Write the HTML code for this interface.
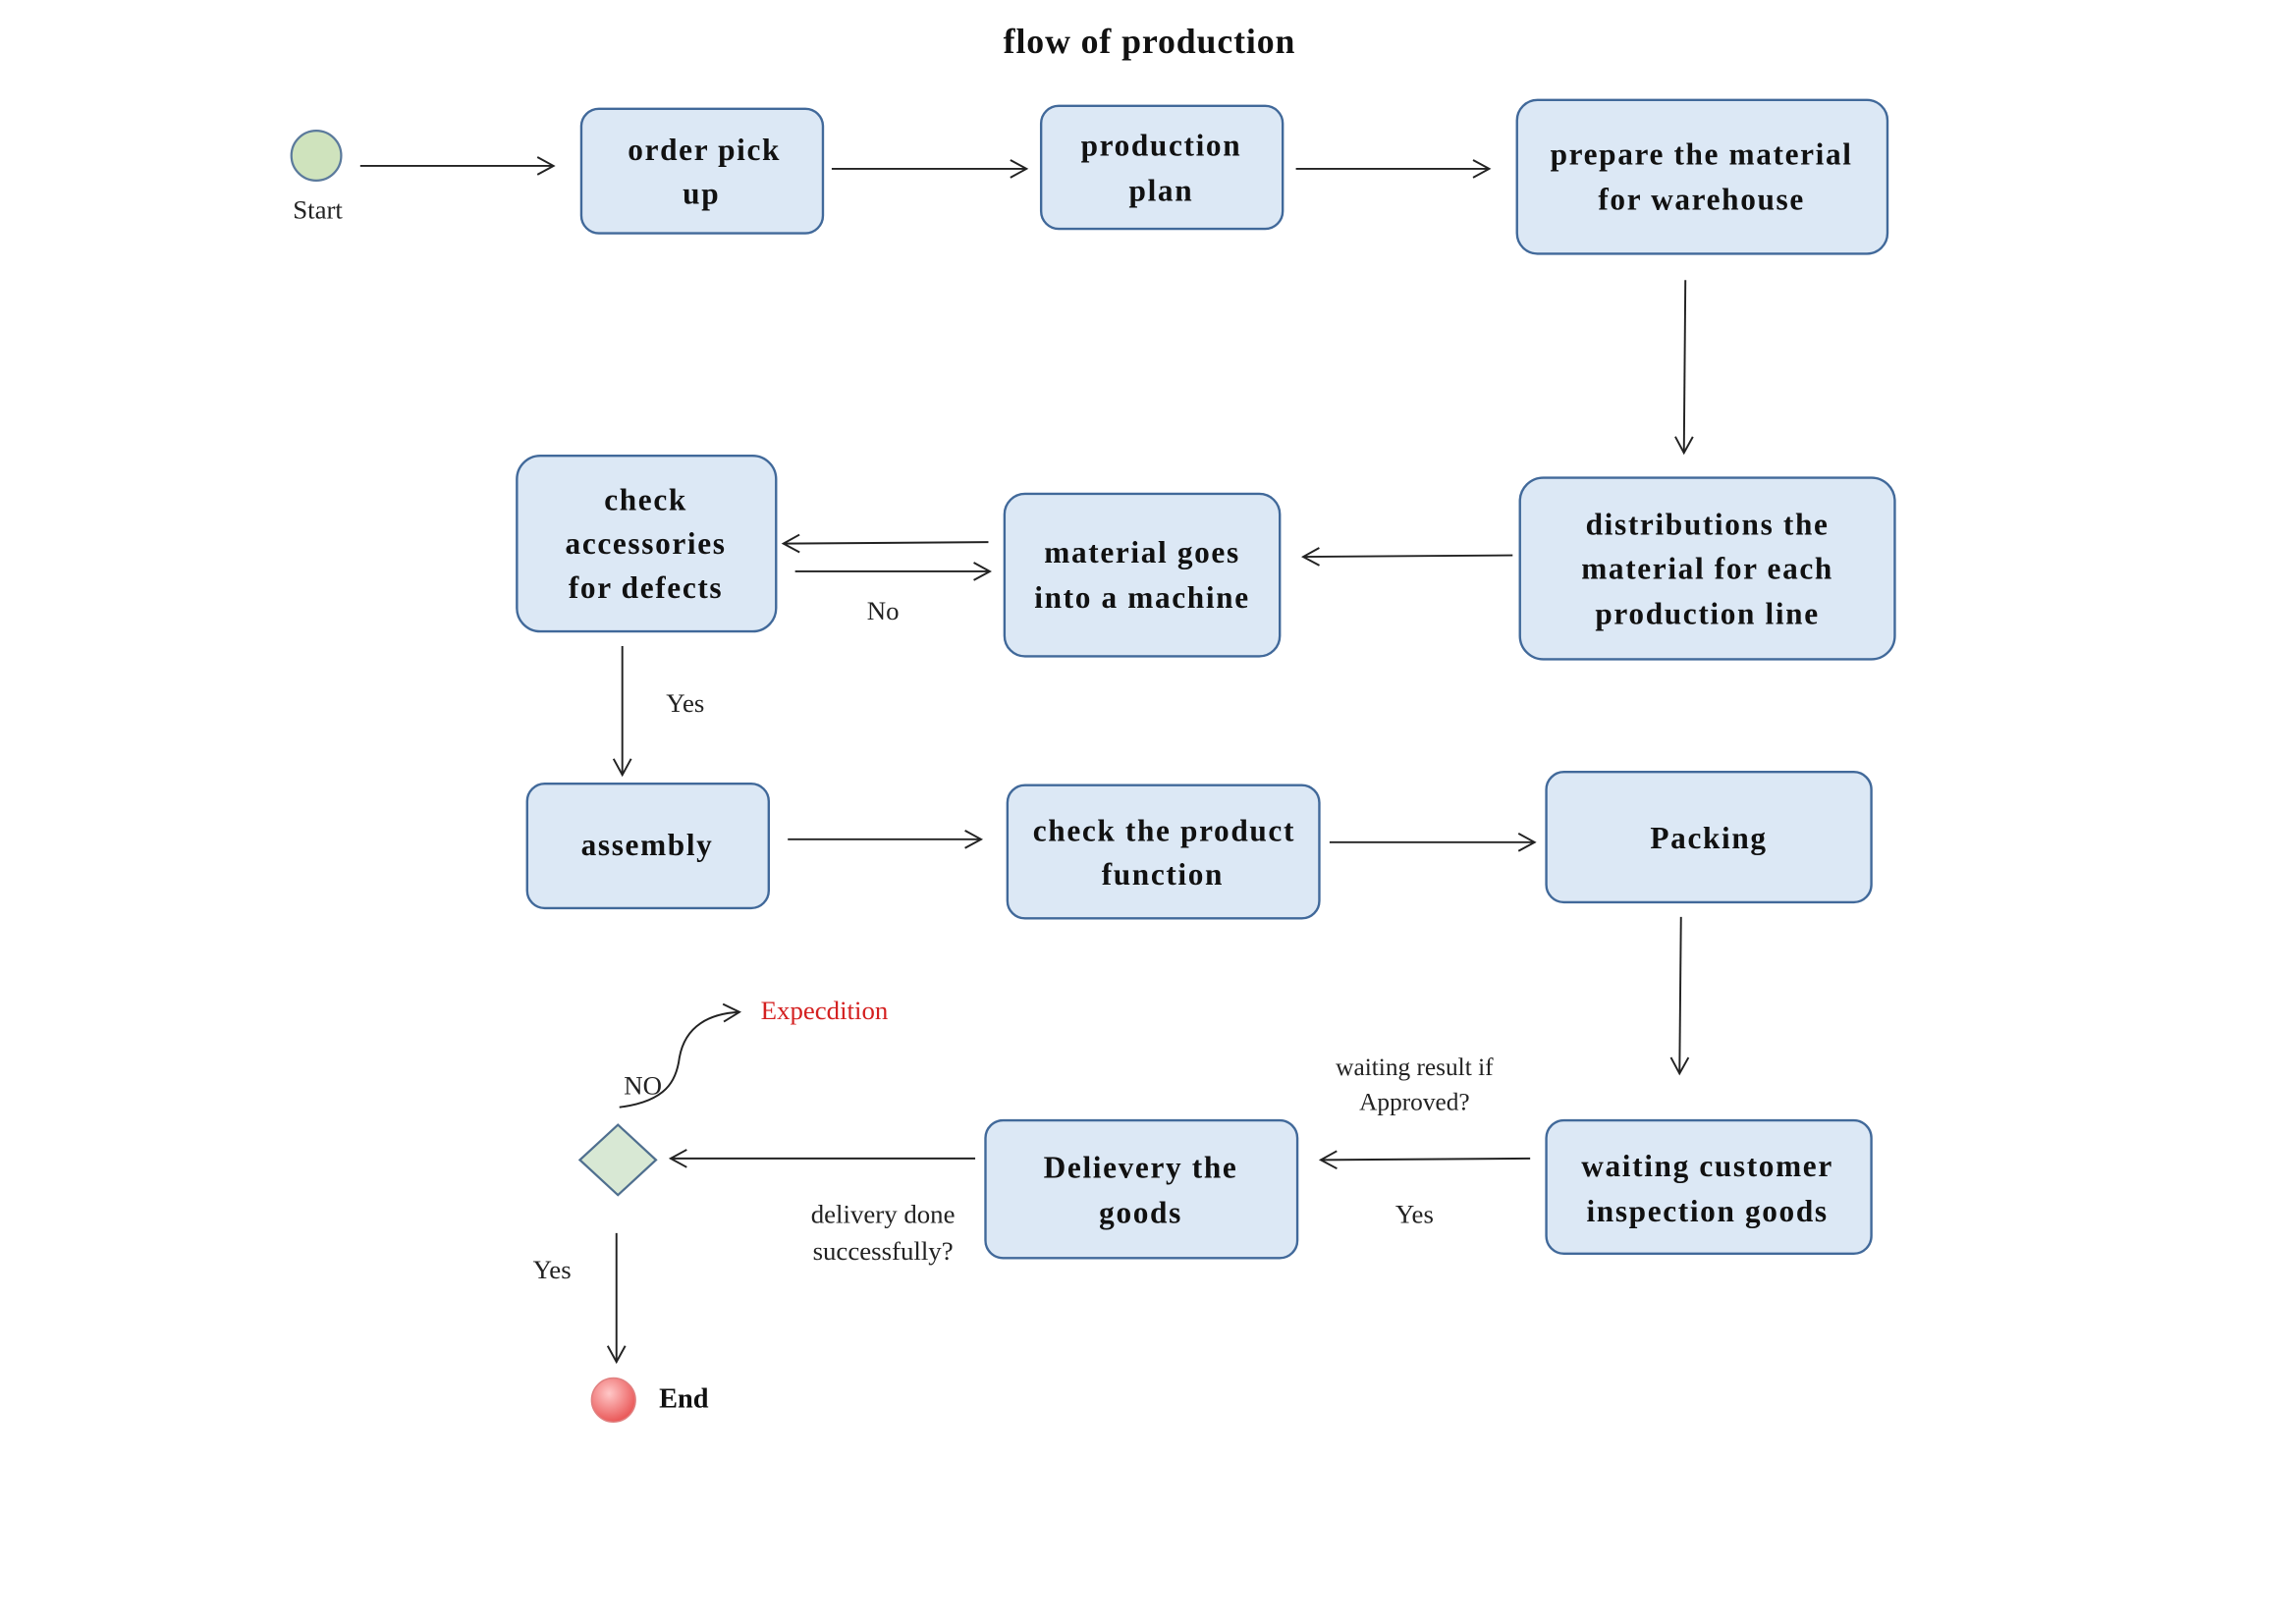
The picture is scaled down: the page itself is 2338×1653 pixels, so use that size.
<!DOCTYPE html>
<html><head><meta charset="utf-8"><style>
html,body{margin:0;padding:0;background:#fff;}
svg{display:block;}
.b{fill:#dce8f5;stroke:#41699a;stroke-width:1.6;}
.t{font-family:"Liberation Serif",serif;font-weight:bold;font-size:21px;fill:#111;text-anchor:middle;letter-spacing:1.1px;}
.n{font-family:"Liberation Serif",serif;font-size:18px;fill:#222;text-anchor:middle;}
.l{stroke:#222;stroke-width:1.3;fill:none;}
</style></head><body>
<svg width="2338" height="1653" viewBox="0 0 1568 1108" xmlns="http://www.w3.org/2000/svg">
<defs><marker id="a" markerWidth="14" markerHeight="14" refX="12" refY="7" orient="auto" markerUnits="userSpaceOnUse"><path d="M1,1 L12,7 L1,13" fill="none" stroke="#222" stroke-width="1.3"/></marker></defs>
<text x="785" y="36" class="t" style="font-size:24px;letter-spacing:0.6px">flow of production</text>

<circle cx="216" cy="106" r="17" fill="#cfe3bd" stroke="#5b7a9c" stroke-width="1.5"/>
<text x="217" y="149" class="n">Start</text>

<rect class="b" x="397" y="74" width="165" height="85" rx="12"/>
<text class="t" x="481" y="109">order pick</text><text class="t" x="479" y="139">up</text>
<rect class="b" x="711" y="72" width="165" height="84" rx="12"/>
<text class="t" x="793" y="106">production</text><text class="t" x="793" y="137">plan</text>
<rect class="b" x="1036" y="68" width="253" height="105" rx="14"/>
<text class="t" x="1162" y="112">prepare the material</text><text class="t" x="1162" y="143">for warehouse</text>

<rect class="b" x="353" y="311" width="177" height="120" rx="16"/>
<text class="t" x="441" y="348">check</text><text class="t" x="441" y="378">accessories</text><text class="t" x="441" y="408">for defects</text>
<rect class="b" x="686" y="337" width="188" height="111" rx="14"/>
<text class="t" x="780" y="384">material goes</text><text class="t" x="780" y="415">into a machine</text>
<rect class="b" x="1038" y="326" width="256" height="124" rx="16"/>
<text class="t" x="1166" y="365">distributions the</text><text class="t" x="1166" y="395">material for each</text><text class="t" x="1166" y="426">production line</text>

<rect class="b" x="360" y="535" width="165" height="85" rx="12"/>
<text class="t" x="442" y="584">assembly</text>
<rect class="b" x="688" y="536" width="213" height="91" rx="12"/>
<text class="t" x="795" y="574">check the product</text><text class="t" x="794" y="604">function</text>
<rect class="b" x="1056" y="527" width="222" height="89" rx="12"/>
<text class="t" x="1167" y="579">Packing</text>

<rect class="b" x="673" y="765" width="213" height="94" rx="12"/>
<text class="t" x="779" y="804">Delievery the</text><text class="t" x="779" y="835">goods</text>
<rect class="b" x="1056" y="765" width="222" height="91" rx="12"/>
<text class="t" x="1166" y="803">waiting customer</text><text class="t" x="1166" y="834">inspection goods</text>

<polygon points="422,768 448,792 422,816 396,792" fill="#d8e8d4" stroke="#4f6f8f" stroke-width="1.5"/>
<defs><radialGradient id="rg" cx="40%" cy="35%" r="70%"><stop offset="0" stop-color="#ffc8c8"/><stop offset="1" stop-color="#e85050"/></radialGradient></defs>
<circle cx="419" cy="956" r="15" fill="url(#rg)" stroke="#e08080" stroke-width="1"/>
<text x="467" y="961" class="t" style="font-size:19px;letter-spacing:0">End</text>

<line class="l" x1="246" y1="113" x2="378" y2="113" marker-end="url(#a)"/>
<line class="l" x1="568" y1="115" x2="701" y2="115" marker-end="url(#a)"/>
<line class="l" x1="885" y1="115" x2="1017" y2="115" marker-end="url(#a)"/>
<line class="l" x1="1151" y1="191" x2="1150" y2="309" marker-end="url(#a)"/>
<line class="l" x1="1033" y1="379" x2="890" y2="380" marker-end="url(#a)"/>
<line class="l" x1="675" y1="370" x2="535" y2="371" marker-end="url(#a)"/>
<line class="l" x1="543" y1="390" x2="676" y2="390" marker-end="url(#a)"/>
<text x="603" y="423" class="n">No</text>
<line class="l" x1="425" y1="441" x2="425" y2="529" marker-end="url(#a)"/>
<text x="468" y="486" class="n">Yes</text>
<line class="l" x1="538" y1="573" x2="670" y2="573" marker-end="url(#a)"/>
<line class="l" x1="908" y1="575" x2="1048" y2="575" marker-end="url(#a)"/>
<line class="l" x1="1148" y1="626" x2="1147" y2="733" marker-end="url(#a)"/>
<line class="l" x1="1045" y1="791" x2="902" y2="792" marker-end="url(#a)"/>
<text x="966" y="734" class="n" style="font-size:17px">waiting result if</text>
<text x="966" y="758" class="n" style="font-size:17px">Approved?</text>
<text x="966" y="835" class="n">Yes</text>
<line class="l" x1="666" y1="791" x2="458" y2="791" marker-end="url(#a)"/>
<text x="603" y="835" class="n">delivery done</text>
<text x="603" y="860" class="n">successfully?</text>
<line class="l" x1="421" y1="842" x2="421" y2="930" marker-end="url(#a)"/>
<text x="377" y="873" class="n">Yes</text>
<path class="l" d="M423,756 C455,752 462,738 464,722 C468,700 485,692 505,691" marker-end="url(#a)"/>
<text x="439" y="747" class="n">NO</text>
<text x="563" y="696" class="n" style="fill:#d42020">Expecdition</text>
</svg>
</body></html>
